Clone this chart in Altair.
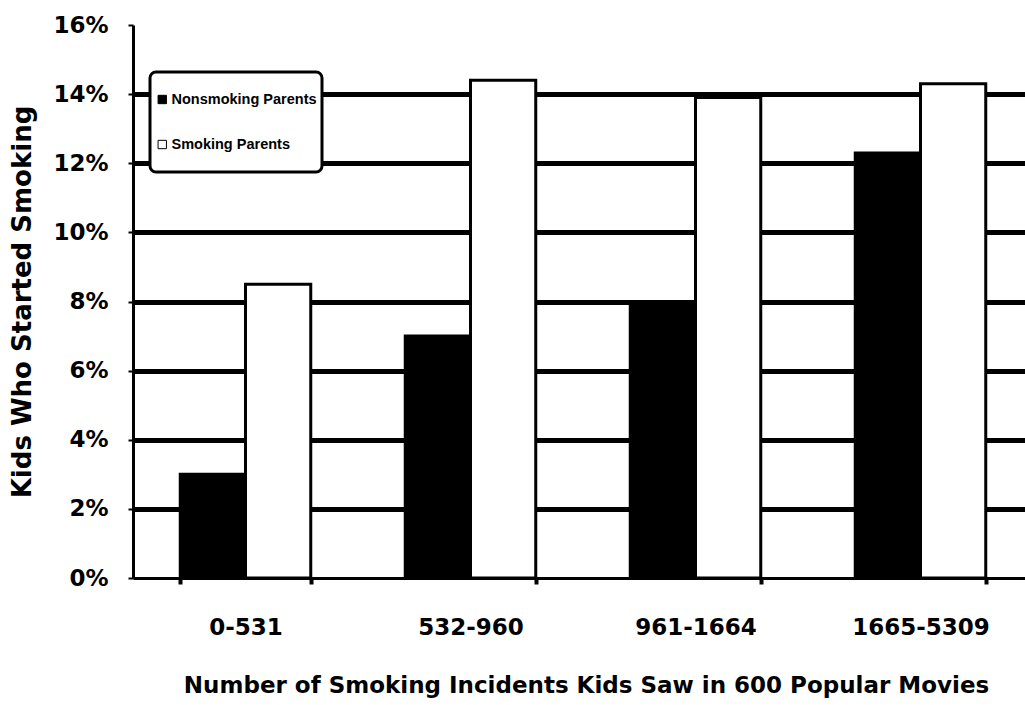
import altair as alt
import pandas as pd

categories = ["0-531", "532-960", "961-1664", "1665-5309"]
series = ["Nonsmoking Parents", "Smoking Parents"]
nonsmoking = [3.0, 7.0, 8.0, 12.3]
smoking = [8.5, 14.4, 13.9, 14.3]
y_ticks = [0, 2, 4, 6, 8, 10, 12, 14, 16]
x_title = "Number of Smoking Incidents Kids Saw in 600 Popular Movies"
y_title = "Kids Who Started Smoking"

rows = []
for c, a, b in zip(categories, nonsmoking, smoking):
    rows.append({"range": c, "group": series[0], "pct": a})
    rows.append({"range": c, "group": series[1], "pct": b})
df = pd.DataFrame(rows)

chart = alt.Chart(df).mark_bar(stroke="black", strokeWidth=3).encode(
    x=alt.X(
        "range:N",
        sort=categories,
        scale=alt.Scale(range=[0, 900], paddingInner=0.42, paddingOuter=0.21),
        axis=alt.Axis(
            title=x_title,
            labelAngle=0,
            tickBand="extent",
            tickSize=6,
            tickWidth=4,
            domainWidth=3,
            labelPadding=32,
            labelFontSize=23,
            titleFontSize=23,
            titlePadding=35,
            titleX=453,
            grid=False,
        ),
    ),
    xOffset=alt.XOffset("group:N", sort=series, scale=alt.Scale(paddingInner=0, paddingOuter=0)),
    y=alt.Y(
        "pct:Q",
        scale=alt.Scale(domain=[0, 16], nice=False),
        axis=alt.Axis(
            title=y_title,
            values=y_ticks,
            labelExpr="datum.value + '%'",
            grid=True,
            gridColor={"condition": {"test": "datum.value <= 0 || datum.value >= 16", "value": "transparent"}, "value": "black"},
            gridWidth=5,
            gridOpacity=1,
            tickSize=5,
            tickWidth=2,
            domainWidth=3,
            labelPadding=20,
            labelFontSize=23,
            titleFontSize=26,
            titlePadding=17,
        ),
    ),
    fill=alt.Fill(
        "group:N",
        sort=series,
        scale=alt.Scale(domain=series, range=["black", "white"]),
        legend=alt.Legend(
            title=None,
            orient="none",
            legendX=17,
            legendY=47,
            direction="vertical",
            symbolType="square",
            symbolSize=70,
            symbolStrokeColor="black",
            symbolStrokeWidth=1,
            labelFont="Liberation Sans",
            labelFontWeight="bold",
            labelFontSize=14.5,
            labelColor="black",
            labelOffset=2,
            padding=5,
            rowPadding=0,
            clipHeight=45,
            strokeColor="black",
            fillColor="white",
            cornerRadius=6,
        ),
    ),
).properties(
    width=892,
    height=553,
    autosize=alt.AutoSizeParams(type="none"),
    padding={"left": 133, "top": 25, "right": 0, "bottom": 127},
).configure_view(
    stroke=None
).configure_axis(
    labelFont="DejaVu Sans",
    labelFontWeight="bold",
    titleFont="DejaVu Sans",
    titleFontWeight="bold",
    labelColor="black",
    titleColor="black",
    domainColor="black",
    tickColor="black",
).configure_legend(
    strokeWidth=3
)

chart.save("out.html", embed_options={"renderer": "svg", "actions": False})
